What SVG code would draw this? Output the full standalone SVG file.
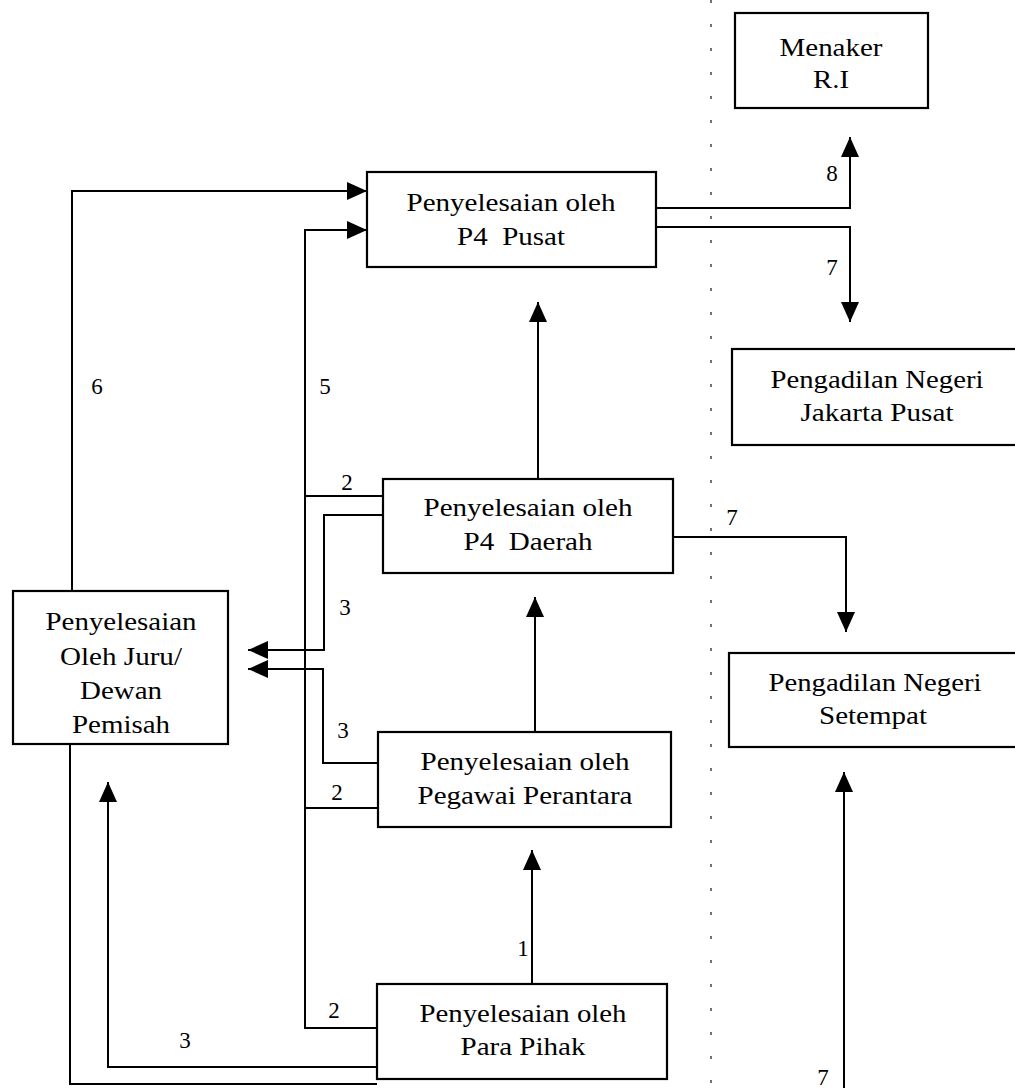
<svg xmlns="http://www.w3.org/2000/svg" width="1015" height="1088" viewBox="0 0 1015 1088">
<style>
.box{fill:#fff;stroke:#000;stroke-width:2.2}
.ln{fill:none;stroke:#000;stroke-width:2}
.arr{fill:none;stroke:#000;stroke-width:2;marker-end:url(#ah)}
.t{font-family:"Liberation Serif","Times New Roman",serif;font-size:26px;fill:#000;text-anchor:middle}
.lb{font-family:"Liberation Serif","Times New Roman",serif;font-size:23px;fill:#000;text-anchor:middle}
.sep{stroke:#444;stroke-width:1.5;stroke-dasharray:3 21;fill:none}
</style>
<defs>
<marker id="ah" viewBox="0 0 20 18" refX="20" refY="9" markerWidth="20" markerHeight="18" markerUnits="userSpaceOnUse" orient="auto">
<path d="M0,0 L20,9 L0,18 Z" fill="#000"/>
</marker>
</defs>
<rect width="1015" height="1088" fill="#fff"/>
<line class="sep" x1="711" y1="0" x2="711" y2="1088"/>
<g id="connectors">
<path class="arr" d="M72,591 L72,191 L367,191"/>
<path class="arr" d="M377,1028 L305,1028 L305,230 L367,230"/>
<path class="ln" d="M383,496 L305,496"/>
<path class="ln" d="M378,808 L305,808"/>
<path class="arr" d="M383,515 L324,515 L324,650 L248,650"/>
<path class="arr" d="M378,763 L323,763 L323,669 L248,669"/>
<path class="arr" d="M377,1067 L108,1067 L108,782"/>
<path class="ln" d="M70,744 L70,1084 L377,1084"/>
<path class="arr" d="M532,984 L532,850"/>
<path class="arr" d="M535,732 L535,597"/>
<path class="arr" d="M538,479 L538,302"/>
<path class="arr" d="M656,208 L850,208 L850,137"/>
<path class="arr" d="M656,227 L850,227 L850,322"/>
<path class="arr" d="M673,537 L846,537 L846,632"/>
<path class="arr" d="M844,1088 L844,772"/>
<text class="lb" x="832" y="181">8</text>
<text class="lb" x="832" y="275">7</text>
<text class="lb" x="97" y="394">6</text>
<text class="lb" x="325" y="394">5</text>
<text class="lb" x="347" y="490">2</text>
<text class="lb" x="732" y="525">7</text>
<text class="lb" x="345" y="615">3</text>
<text class="lb" x="343" y="738">3</text>
<text class="lb" x="337" y="800">2</text>
<text class="lb" x="523" y="956">1</text>
<text class="lb" x="334" y="1018">2</text>
<text class="lb" x="185" y="1048">3</text>
<text class="lb" x="823" y="1085">7</text>
</g>
<g id="menaker">
<rect class="box" x="735" y="13" width="193" height="95"/>
<text class="t" x="831" y="56" textLength="103" lengthAdjust="spacingAndGlyphs">Menaker</text>
<text class="t" x="831" y="88" textLength="36" lengthAdjust="spacingAndGlyphs">R.I</text>
</g>
<g id="p4pusat">
<rect class="box" x="367" y="172" width="289" height="95"/>
<text class="t" x="511" y="211" textLength="209" lengthAdjust="spacingAndGlyphs">Penyelesaian oleh</text>
<text class="t" x="511" y="245" xml:space="preserve" textLength="108" lengthAdjust="spacingAndGlyphs">P4  Pusat</text>
</g>
<g id="pn-jakarta">
<rect class="box" x="732" y="349" width="290" height="96"/>
<text class="t" x="877" y="388" textLength="213" lengthAdjust="spacingAndGlyphs">Pengadilan Negeri</text>
<text class="t" x="877" y="421" textLength="153" lengthAdjust="spacingAndGlyphs">Jakarta Pusat</text>
</g>
<g id="p4daerah">
<rect class="box" x="383" y="479" width="290" height="94"/>
<text class="t" x="528" y="516" textLength="209" lengthAdjust="spacingAndGlyphs">Penyelesaian oleh</text>
<text class="t" x="528" y="550" xml:space="preserve" textLength="129" lengthAdjust="spacingAndGlyphs">P4  Daerah</text>
</g>
<g id="juru">
<rect class="box" x="13" y="591" width="215" height="153"/>
<text class="t" x="121" y="630" textLength="151" lengthAdjust="spacingAndGlyphs">Penyelesaian</text>
<text class="t" x="121" y="665" textLength="122" lengthAdjust="spacingAndGlyphs">Oleh Juru/</text>
<text class="t" x="121" y="699" textLength="82" lengthAdjust="spacingAndGlyphs">Dewan</text>
<text class="t" x="121" y="733" textLength="98" lengthAdjust="spacingAndGlyphs">Pemisah</text>
</g>
<g id="pn-setempat">
<rect class="box" x="729" y="653" width="290" height="94"/>
<text class="t" x="875" y="691" textLength="213" lengthAdjust="spacingAndGlyphs">Pengadilan Negeri</text>
<text class="t" x="873" y="724" textLength="108" lengthAdjust="spacingAndGlyphs">Setempat</text>
</g>
<g id="pegawai">
<rect class="box" x="378" y="732" width="293" height="95"/>
<text class="t" x="525" y="770" textLength="209" lengthAdjust="spacingAndGlyphs">Penyelesaian oleh</text>
<text class="t" x="525" y="804" textLength="215" lengthAdjust="spacingAndGlyphs">Pegawai Perantara</text>
</g>
<g id="parapihak">
<rect class="box" x="377" y="984" width="290" height="95"/>
<text class="t" x="523" y="1022" textLength="207" lengthAdjust="spacingAndGlyphs">Penyelesaian oleh</text>
<text class="t" x="523" y="1055" textLength="125" lengthAdjust="spacingAndGlyphs">Para Pihak</text>
</g>
</svg>
